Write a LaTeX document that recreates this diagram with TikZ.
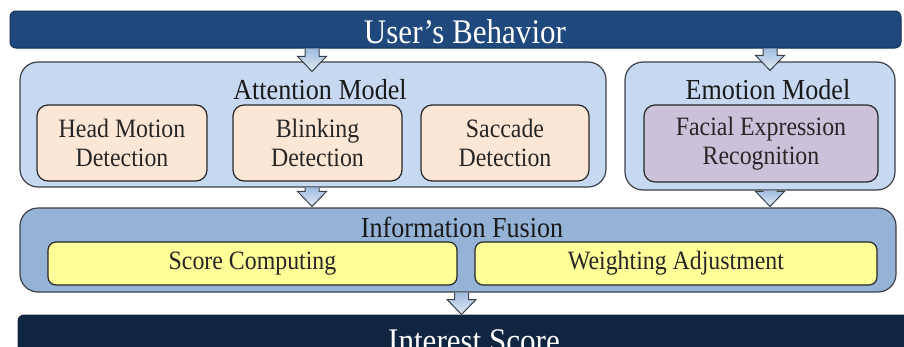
\documentclass[tikz,border=0pt]{standalone}
\usepackage{fontspec}
\setmainfont{Liberation Serif}[FakeStretch=0.9]
\usepackage{tikz}
\usetikzlibrary{calc}
\usepackage{xcolor}
\definecolor{barblue}{RGB}{31,73,125}
\definecolor{barline}{RGB}{20,48,84}
\definecolor{navy}{RGB}{16,37,64}
\definecolor{modelfill}{RGB}{198,217,241}
\definecolor{fusionfill}{RGB}{149,179,215}
\definecolor{detectfill}{RGB}{252,230,214}
\definecolor{facialfill}{RGB}{204,193,218}
\definecolor{scorefill}{RGB}{255,255,153}
\definecolor{edgegray}{RGB}{60,64,72}
\definecolor{arrowtop}{RGB}{160,188,222}
\definecolor{arrowbot}{RGB}{226,234,245}
\tikzset{%
    bar/.style={draw=barline, line width=1pt, rounded corners=6pt, inner sep=0pt},
    modelbox/.style={draw=edgegray, fill=modelfill, line width=1.2pt, rounded corners=18pt, inner sep=0pt},
    fusionbox/.style={modelbox, fill=fusionfill},
    detectbox/.style={draw=black!85, fill=detectfill, line width=1.2pt, rounded corners=11pt,
        align=center, inner sep=0pt, font=\fontsize{26.5}{29}\selectfont, text=black!85},
    scorebox/.style={detectbox, fill=scorefill, rounded corners=8pt},
    title/.style={font=\fontsize{29}{32}\selectfont, anchor=base, inner sep=0pt, text=black!90},
    bartext/.style={font=\fontsize{34.5}{38}\selectfont, text=white, anchor=base, inner sep=0pt},
    blockarrow/.style={draw=edgegray, line width=1pt, top color=arrowtop, bottom color=arrowbot}
}
% fat down arrow, from the first point down to the tip at the second
\newcommand{\blockarrow}[2]{%
    \path[blockarrow] let \p1=#1, \p2=#2 in
        (\x1-7pt,\y1) -- (\x1-7pt,\y2+15pt) -- (\x1-14.5pt,\y2+15pt) -- (\x1,\y2)
        -- (\x1+14.5pt,\y2+15pt) -- (\x1+7pt,\y2+15pt) -- (\x1+7pt,\y1);
}

\begin{document}
\begin{tikzpicture}[x=1pt,y=-1pt]
    \useasboundingbox (0,0) rectangle (904,346);
    \clip (0,0) rectangle (904,346);
    % top and bottom bars
    \node[bar, fill=barblue, minimum width=891pt, minimum height=37pt] (behavior) at (455.5,29.5) {};
    \node[bartext] (behaviortext) at (465,43) {User's Behavior};
    \node[bar, draw=navy, fill=navy, minimum width=912pt, minimum height=60pt] (interest) at (474,345) {};
    \node[bartext] (interesttext) at (474,352) {Interest Score};
    % models
    \node[modelbox, minimum width=586pt, minimum height=125pt] (attention) at (313,124.5) {};
    \node[modelbox, minimum width=270pt, minimum height=128pt] (emotion) at (760,126) {};
    \node[title] (attentiontitle) at (320,99) {Attention Model};
    \node[title] (emotiontitle) at (768,99) {Emotion Model};
    \node[detectbox, minimum width=170pt, minimum height=76pt] (head) at (122,143) {Head Motion\\Detection};
    \node[detectbox, minimum width=169pt, minimum height=76pt] (blink) at (317.5,143) {Blinking\\Detection};
    \node[detectbox, minimum width=168pt, minimum height=76pt] (saccade) at (505,143) {Saccade\\Detection};
    \node[detectbox, fill=facialfill, minimum width=234pt, minimum height=77pt] (facial) at (761,143.5) {Facial Expression\\Recognition};
    % fusion
    \node[fusionbox, minimum width=876pt, minimum height=84pt] (fusion) at (458,250) {};
    \node[title] (fusiontitle) at (462,237) {Information Fusion};
    \node[scorebox, minimum width=409pt, minimum height=43pt] (score) at (252.5,263.5) {Score Computing};
    \node[scorebox, minimum width=402pt, minimum height=43pt] (weight) at (676,263.5) {Weighting Adjustment};
    % arrows
    \blockarrow{($(behavior.south -| attention.north)+(-1,0)$)}{($(attention.north)+(-1,10)$)}
    \blockarrow{($(behavior.south -| emotion.north)+(10,0)$)}{($(emotion.north)+(10,9)$)}
    \blockarrow{($(attention.south)+(-1,0)$)}{($(fusion.north -| attention.south)+(-1,-1)$)}
    \blockarrow{($(emotion.south)+(10,0)$)}{($(fusion.north -| emotion.south)+(10,-1)$)}
    \blockarrow{($(fusion.south)+(3.5,0)$)}{($(interest.north)+(-12.5,0)$)}
\end{tikzpicture}
\end{document}
